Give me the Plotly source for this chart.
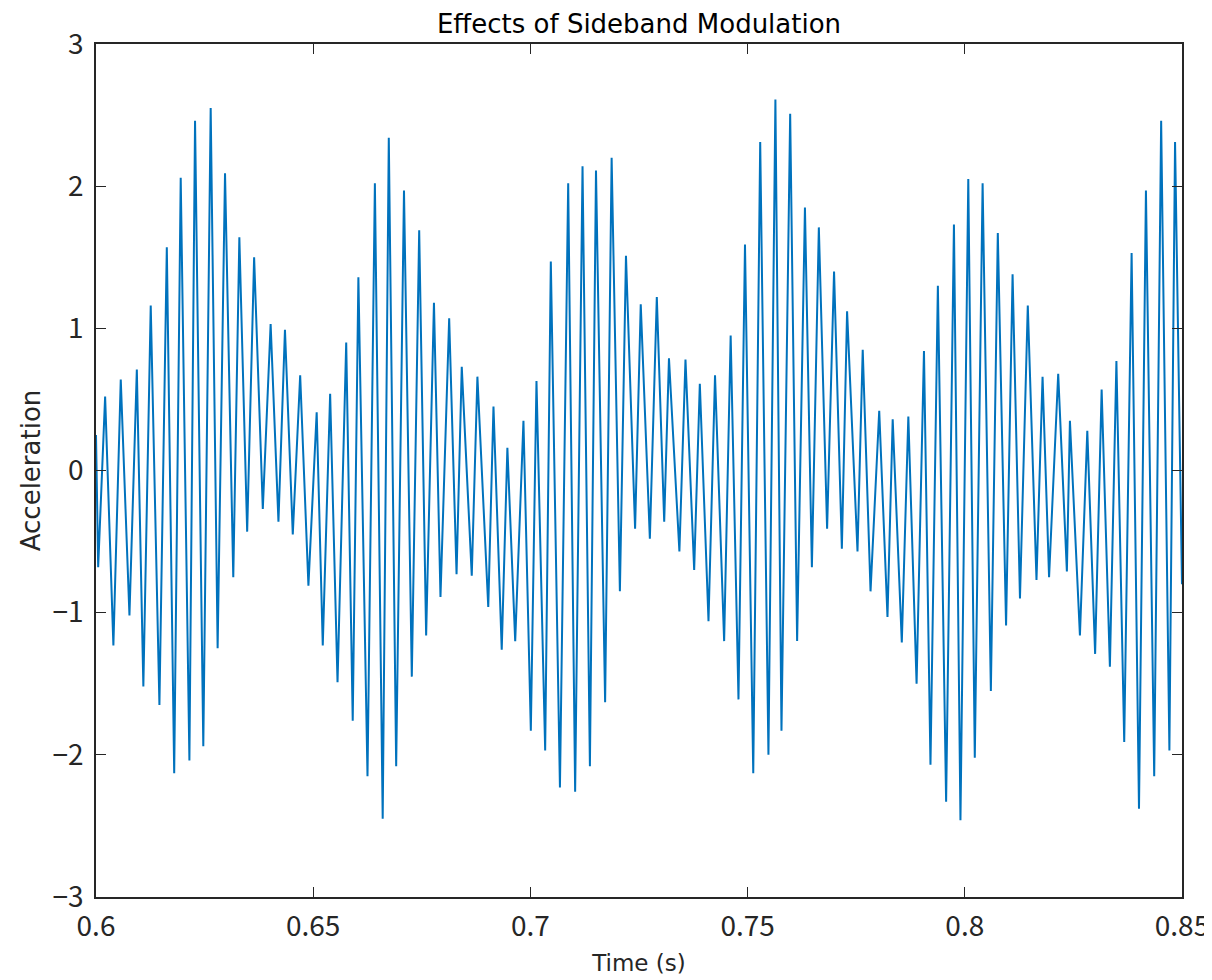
import plotly.graph_objects as go

# Local maxima of the signal (time in s, acceleration)
peak_t = [0.6000, 0.6021, 0.6057, 0.6094, 0.6126, 0.6163, 0.6195, 0.6228, 0.6264, 0.6297,
          0.6330, 0.6364, 0.6402, 0.6435, 0.6470, 0.6508, 0.6539, 0.6576, 0.6604, 0.6642,
          0.6674, 0.6709, 0.6744, 0.6778, 0.6813, 0.6842, 0.6878, 0.6915, 0.6947, 0.6984,
          0.7014, 0.7047, 0.7087, 0.7120, 0.7151, 0.7187, 0.7220, 0.7254, 0.7291, 0.7319,
          0.7357, 0.7390, 0.7425, 0.7461, 0.7494, 0.7529, 0.7564, 0.7598, 0.7632, 0.7664,
          0.7699, 0.7729, 0.7765, 0.7803, 0.7834, 0.7870, 0.7906, 0.7938, 0.7975, 0.8008,
          0.8041, 0.8076, 0.8110, 0.8145, 0.8179, 0.8215, 0.8242, 0.8282, 0.8315, 0.8349,
          0.8384, 0.8417, 0.8452, 0.8484]
peak_v = [0.25, 0.52, 0.64, 0.71, 1.16, 1.57, 2.06, 2.46, 2.55, 2.09,
          1.64, 1.50, 1.03, 0.99, 0.67, 0.41, 0.54, 0.90, 1.36, 2.02,
          2.34, 1.97, 1.69, 1.18, 1.07, 0.73, 0.66, 0.45, 0.16, 0.35,
          0.63, 1.47, 2.02, 2.14, 2.11, 2.20, 1.51, 1.17, 1.22, 0.79,
          0.78, 0.61, 0.67, 0.95, 1.59, 2.31, 2.61, 2.51, 1.85, 1.71,
          1.40, 1.12, 0.85, 0.42, 0.36, 0.38, 0.84, 1.30, 1.73, 2.05,
          2.02, 1.67, 1.38, 1.16, 0.66, 0.68, 0.35, 0.28, 0.57, 0.77,
          1.53, 1.97, 2.46, 2.31]

# Local minima of the signal
trough_t = [0.6005, 0.6040, 0.6077, 0.6109, 0.6146, 0.6180, 0.6215, 0.6247, 0.6280, 0.6316,
            0.6348, 0.6384, 0.6420, 0.6453, 0.6489, 0.6522, 0.6556, 0.6591, 0.6625, 0.6660,
            0.6691, 0.6727, 0.6760, 0.6793, 0.6830, 0.6865, 0.6903, 0.6934, 0.6965, 0.7001,
            0.7034, 0.7068, 0.7103, 0.7137, 0.7172, 0.7206, 0.7241, 0.7275, 0.7308, 0.7343,
            0.7377, 0.7410, 0.7446, 0.7479, 0.7513, 0.7548, 0.7578, 0.7614, 0.7648, 0.7683,
            0.7717, 0.7753, 0.7783, 0.7822, 0.7855, 0.7889, 0.7921, 0.7957, 0.7990, 0.8023,
            0.8060, 0.8095, 0.8127, 0.8165, 0.8194, 0.8235, 0.8265, 0.8300, 0.8334, 0.8367,
            0.8401, 0.8436, 0.8471, 0.8500]
trough_v = [-0.68, -1.23, -1.02, -1.52, -1.65, -2.13, -2.04, -1.94, -1.25, -0.75,
            -0.43, -0.27, -0.36, -0.45, -0.81, -1.23, -1.49, -1.76, -2.15, -2.45,
            -2.08, -1.45, -1.16, -0.89, -0.73, -0.74, -0.96, -1.26, -1.20, -1.83,
            -1.97, -2.23, -2.26, -2.08, -1.63, -0.85, -0.41, -0.48, -0.36, -0.57,
            -0.70, -1.06, -1.20, -1.61, -2.13, -2.00, -1.83, -1.20, -0.68, -0.41,
            -0.55, -0.57, -0.85, -1.03, -1.21, -1.50, -2.07, -2.33, -2.46, -2.02,
            -1.55, -1.09, -0.90, -0.77, -0.75, -0.71, -1.16, -1.29, -1.38, -1.91,
            -2.38, -2.15, -1.97, -0.80]

x_ticks = [0.6, 0.65, 0.7, 0.75, 0.8, 0.85]
x_tick_labels = ["0.6", "0.65", "0.7", "0.75", "0.8", "0.85"]
y_ticks = [-3, -2, -1, 0, 1, 2, 3]

pts = sorted(zip(peak_t + trough_t, peak_v + trough_v))
t = [p[0] for p in pts]
v = [p[1] for p in pts]

TICKFONT = "Noto Sans CJK JP"
LABELFONT = "DejaVu Sans"
AX = "#262626"

fig = go.Figure()
fig.add_trace(go.Scatter(x=t, y=v, mode="lines",
                         line=dict(color="#0072BD", width=2.0), showlegend=False))

fig.update_layout(
    width=1212, height=980,
    paper_bgcolor="white", plot_bgcolor="white",
    margin=dict(l=88, r=38, t=36, b=91),
    font=dict(family=TICKFONT, size=26, color=AX),
    title=dict(text="Effects of Sideband Modulation", x=0.5, xref="paper", xanchor="center",
               y=0.9837, yanchor="middle",
               font=dict(family=LABELFONT, size=26, color="#000000")),
)
fig.update_xaxes(
    range=[0.6, 0.85], tickmode="array", tickvals=x_ticks, ticktext=x_tick_labels,
    ticks="inside", ticklen=10, tickwidth=1.2, tickcolor=AX,
    showline=True, linecolor=AX, linewidth=1.5, mirror="ticks",
    showgrid=False, zeroline=False, ticklabelstandoff=4,
    title=dict(text="Time (s)", font=dict(family=LABELFONT, size=23, color=AX), standoff=12),
    tickfont=dict(family=TICKFONT, size=28, color=AX),
)
fig.update_yaxes(
    range=[-3, 3], tickmode="array", tickvals=y_ticks,
    ticks="inside", ticklen=10, tickwidth=1.2, tickcolor=AX,
    showline=True, linecolor=AX, linewidth=1.5, mirror="ticks",
    showgrid=False, zeroline=False, ticklabelstandoff=5,
    title=dict(text="Acceleration", font=dict(family=LABELFONT, size=26, color=AX), standoff=4),
    tickfont=dict(family=TICKFONT, size=28, color=AX),
)

fig.write_html("out.html")
